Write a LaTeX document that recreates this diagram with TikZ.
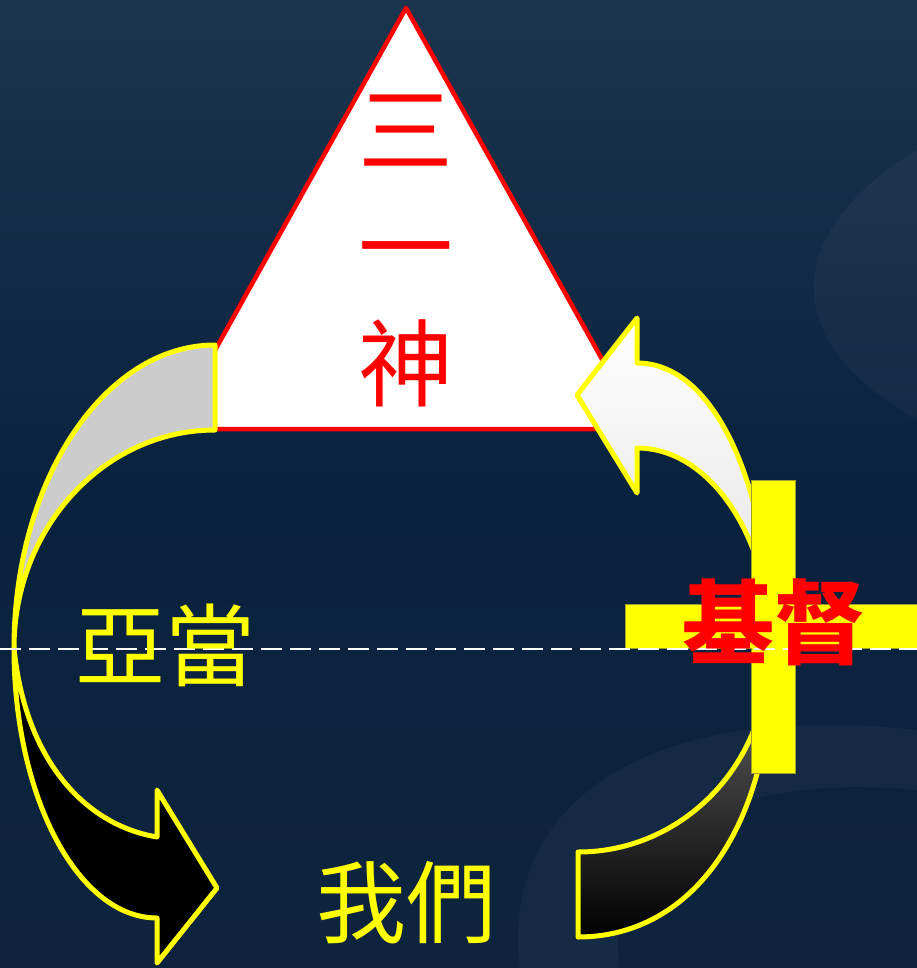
\documentclass[tikz,border=0pt]{standalone}
\usepackage{fontspec}
\newfontfamily\cjk{Noto Sans CJK TC}
\definecolor{bgtop}{RGB}{28,53,78}
\definecolor{bgmid}{RGB}{9,34,62}
\definecolor{bgbot}{RGB}{14,36,62}
\definecolor{hiyellow}{RGB}{255,255,0}
\definecolor{crossedge}{RGB}{160,160,40}
\definecolor{bandgrey}{RGB}{204,204,204}
\tikzset{
  bandline/.style={draw=hiyellow,line width=5pt,line join=round},
  bigcjk/.style={font=\cjk\fontsize{90}{90}\selectfont,inner sep=0pt},
}
\begin{document}
\begin{tikzpicture}[x=1pt,y=-1pt]
  \useasboundingbox (0,0) rectangle (917,968);
  % background
  \fill[top color=bgtop,bottom color=bgbot,middle color=bgmid] (0,0) rectangle (917,968);
  \fill[white,opacity=0.03] (917,150) .. controls (800,220) and (760,330) .. (917,420) -- cycle;
  \fill[white,opacity=0.03] (520,968) .. controls (500,800) and (650,700) .. (917,730) -- (917,790) .. controls (700,770) and (600,860) .. (620,968) -- cycle;
  % triangle
  \draw[red,line width=4.5pt,line join=round,fill=white] (406,8) coordinate (apex) -- (641,429) coordinate (baseR) -- (171,429) coordinate (baseL) -- cycle;
  \node[bigcjk,text=red,align=center,font=\cjk\fontsize{95}{117}\selectfont] (god) at (406,251) {三\\一\\神};
  % left arrow (grey part, black part)
  \fill[bandgrey,bandline] (215,345) -- (215,430) .. controls (104,430) and (14,528) .. (14,648)
    .. controls (14,481) and (104,345) .. cycle;
  \fill[black,bandline] (14,648) .. controls (14,797) and (78,918) .. (157,918) -- (157,963) -- (217,888)
    -- (157,790) -- (157,837) .. controls (85,825) and (25,760) .. cycle;
  % right arrow (light part, dark part)
  \fill[top color=white,bottom color=black!12,bandline] (637,363) -- (637,318) -- (577,395) -- (637,493) -- (637,448)
    .. controls (712,448) and (772,541) .. (772,655) .. controls (772,500) and (720,363) .. cycle;
  \fill[top color=black!58,bottom color=black,bandline] (578,852) -- (578,937) .. controls (694,937) and (772,824) .. (772,655)
    -- (768,655) .. controls (768,764) and (683,852) .. cycle;
  % cross
  \filldraw[fill=hiyellow,draw=crossedge,line width=0.8pt] (751,480) -- (795,480) -- (795,604) -- (920,604) -- (920,648)
    -- (795,648) -- (795,773) -- (751,773) -- (751,648) -- (625,648) -- (625,604) -- (751,604) -- cycle;
  % dashed line
  \coordinate (lineL) at (0,649);
  \coordinate (lineR) at (917,649);
  \draw[white,line width=2.5pt,dash pattern=on 21pt off 8pt] (lineL) -- (lineR);
  % labels
  \node[bigcjk,text=hiyellow] (adam) at (165,645) {亞當};
  \node[bigcjk,text=red,font=\cjk\bfseries\fontsize{92}{92}\selectfont] (christ) at (774,622) {基督};
  \node[bigcjk,text=hiyellow] (us) at (406,903) {我們};
\end{tikzpicture}
\end{document}
